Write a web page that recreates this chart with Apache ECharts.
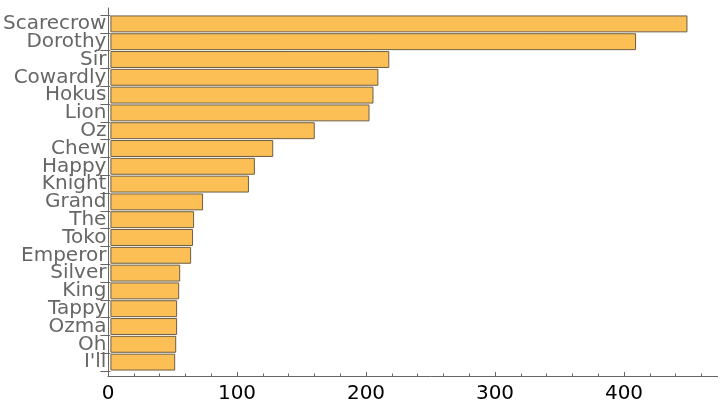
<!DOCTYPE html>
<html>
<head>
<meta charset="utf-8">
<script src="https://cdn.jsdelivr.net/npm/echarts@6/dist/echarts.min.js"></script>
<style>
html,body{margin:0;padding:0;background:#fff;overflow:hidden;}
#wrap{width:718px;height:408px;overflow:hidden;}
#chart{width:753px;height:408px;}
</style>
</head>
<body>
<div id="wrap"><div id="chart"></div></div>
<script>
const categories = ["Scarecrow","Dorothy","Sir","Cowardly","Hokus","Lion","Oz","Chew","Happy","Knight","Grand","The","Toko","Emperor","Silver","King","Tappy","Ozma","Oh","I'll"];
const counts = [449, 409, 217, 208.5, 204.7, 201.6, 159, 126.7, 112.4, 107.8, 72.1, 65.1, 64.3, 62.8, 54.3, 53.5, 51.9, 51.9, 51.2, 50.4];
const xTicks = [0, 100, 200, 300, 400];

const chart = echarts.init(document.getElementById('chart'), null, {renderer: 'canvas'});
const FONT = 'DejaVu Sans';
const X_MAX = 500;
chart.setOption({
  animation: false,
  grid: [
    {left: 108, right: 0, top: 15, height: 356},
    {left: 108, right: 0, top: 8, height: 368}
  ],
  xAxis: [
    {gridIndex: 0, type: 'value', min: 0, max: X_MAX, interval: 100, show: false},
    {gridIndex: 1, type: 'value', min: 0, max: X_MAX, interval: 100,
     axisLine: {show: true, lineStyle: {color: '#666', width: 1}},
     axisTick: {show: true, inside: true, length: 4, lineStyle: {color: '#666'}},
     minorTick: {show: true, splitNumber: 5, length: 2.5, lineStyle: {color: '#666'}},
     splitLine: {show: false},
     axisLabel: {color: '#000', fontFamily: FONT, fontSize: 20, margin: 8,
       showMaxLabel: false,
       formatter: v => xTicks.indexOf(v) >= 0 ? String(v) : ''}
    }
  ],
  yAxis: [
    {gridIndex: 0, type: 'category', data: categories, inverse: true,
     axisLine: {show: false},
     axisTick: {show: true, length: 10, alignWithLabel: false, lineStyle: {color: '#666'}},
     axisLabel: {color: '#666', fontFamily: FONT, fontSize: 20, margin: 4, interval: 0}
    },
    {gridIndex: 1, type: 'value', min: 0, max: 1,
     axisLine: {show: true, lineStyle: {color: '#666', width: 1}},
     axisTick: {show: false}, axisLabel: {show: false}, splitLine: {show: false}
    }
  ],
  series: [{
    type: 'bar',
    xAxisIndex: 0, yAxisIndex: 0,
    data: counts,
    barCategoryGap: '5%',
    itemStyle: {color: '#fbbf55', borderColor: '#6e5f44', borderWidth: 1}
  }]
});
</script>
</body>
</html>
